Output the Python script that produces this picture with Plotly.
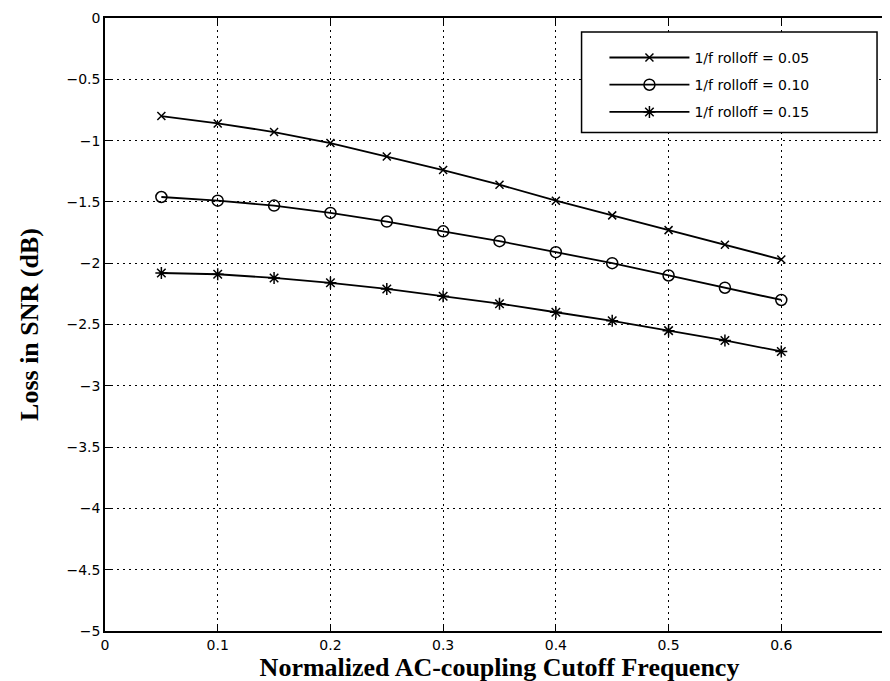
import plotly.graph_objects as go

cutoff = [0.05, 0.10, 0.15, 0.20, 0.25, 0.30, 0.35, 0.40, 0.45, 0.50, 0.55, 0.60]
loss_005 = [-0.80, -0.86, -0.93, -1.02, -1.13, -1.24, -1.36, -1.49, -1.61, -1.73, -1.85, -1.97]
loss_010 = [-1.46, -1.49, -1.53, -1.59, -1.66, -1.74, -1.82, -1.91, -2.00, -2.10, -2.20, -2.30]
loss_015 = [-2.08, -2.09, -2.12, -2.16, -2.21, -2.27, -2.33, -2.40, -2.47, -2.55, -2.63, -2.72]
names = ["1/f rolloff = 0.05", "1/f rolloff = 0.10", "1/f rolloff = 0.15"]
x_ticks = [0, 0.1, 0.2, 0.3, 0.4, 0.5, 0.6]
x_ticklabels = ["0", "0.1", "0.2", "0.3", "0.4", "0.5", "0.6"]
y_ticks = [0, -0.5, -1, -1.5, -2, -2.5, -3, -3.5, -4, -4.5, -5]
y_ticklabels = ["0", "\u22120.5", "\u22121", "\u22121.5", "\u22122", "\u22122.5", "\u22123", "\u22123.5", "\u22124", "\u22124.5", "\u22125"]

TICK_FONT = dict(family="DejaVu Sans, Arial, sans-serif", size=14, color="black")
TITLE_FONT = dict(family="Liberation Serif, Times New Roman, serif", size=26, color="black")

fig = go.Figure()
series = [loss_005, loss_010, loss_015]
symbols = ["x-thin-open", "circle-open", "asterisk-open"]
sizes = [8, 11, 10]
for i, (ys, nm, sym, sz) in enumerate(zip(series, names, symbols, sizes)):
    fig.add_trace(go.Scatter(
        x=cutoff, y=ys, name=nm, mode="lines+markers", legendgroup="g%d" % i,
        line=dict(color="black", width=1.8),
        marker=dict(symbol=sym, size=sz, color="black", line=dict(color="black", width=1.5)),
    ))

axis_common = dict(
    showline=True, linecolor="black", linewidth=1.5, mirror="ticks",
    ticks="inside", ticklen=7, tickcolor="black", tickwidth=1.2,
    showgrid=True, gridcolor="black", griddash="2px,4px", gridwidth=1.2,
    zeroline=False, tickfont=TICK_FONT, ticklabeloverflow="allow",
)

# legend frame (MATLAB-style wide box)
fig.add_shape(type="rect", xref="paper", yref="paper",
              x0=0.604, x1=0.9785, y0=0.8133, y1=0.977,
              fillcolor="white", line=dict(color="black", width=1.5), layer="above")

fig.update_layout(
    width=890, height=681,
    margin=dict(l=97, r=2, t=8, b=58),
    plot_bgcolor="white", paper_bgcolor="white",
    xaxis=dict(range=[0, 0.7], tickvals=x_ticks, ticktext=x_ticklabels,
               title=dict(text="<b>Normalized AC-coupling Cutoff Frequency</b>", standoff=1, font=TITLE_FONT),
               **axis_common),
    yaxis=dict(range=[-5, 0], tickvals=y_ticks, ticktext=y_ticklabels,
               title=dict(text="<b>Loss in SNR (dB)</b>", standoff=20, font=TITLE_FONT),
               **axis_common),
    legend=dict(x=0.633, y=0.961, xanchor="left", yanchor="top",
                bgcolor="rgba(0,0,0,0)", borderwidth=0,
                font=TICK_FONT, traceorder="grouped",
                tracegroupgap=6, itemwidth=80),
    showlegend=True,
)

fig.write_html("out.html")
